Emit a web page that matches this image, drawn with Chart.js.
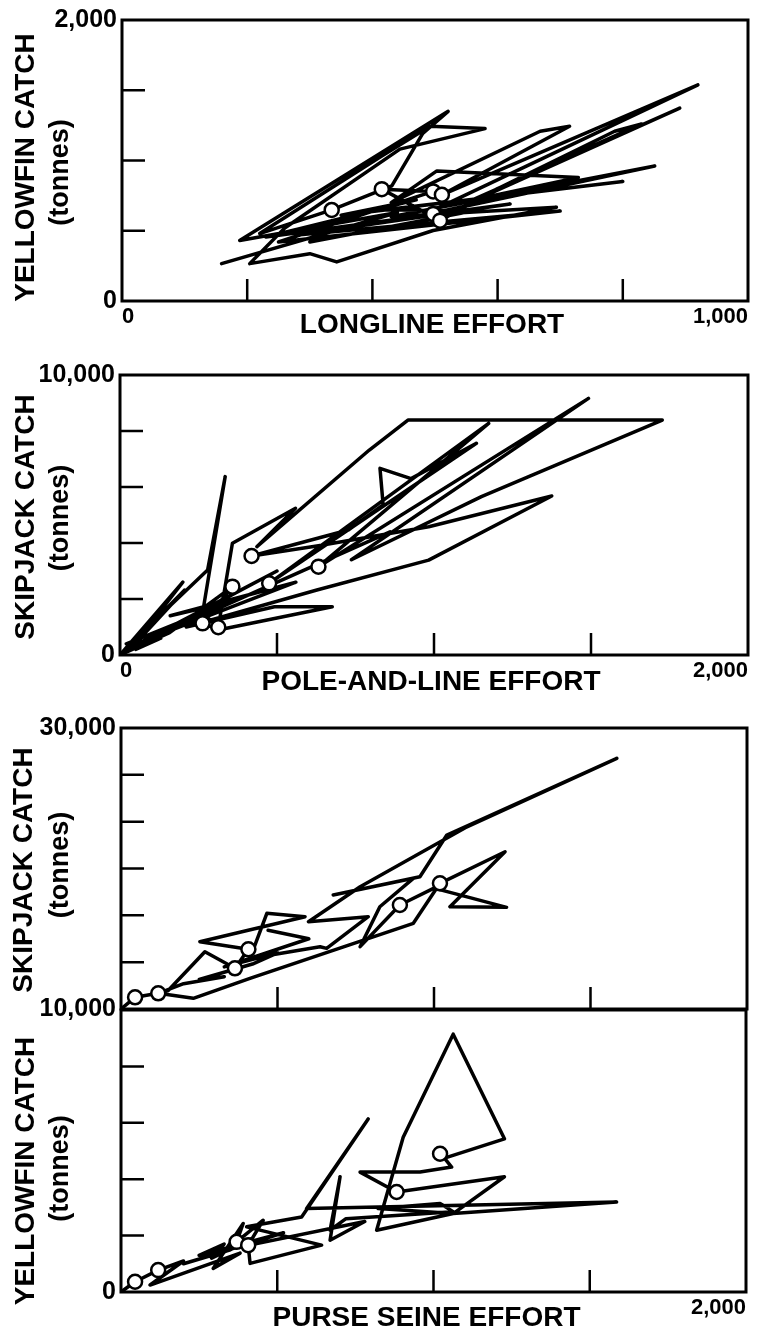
<!DOCTYPE html>
<html>
<head>
<meta charset="utf-8">
<script src="https://cdn.jsdelivr.net/npm/chart.js@4.4.1/dist/chart.umd.min.js"></script>
<style>
  body { margin: 0; background: #fff; width: 772px; height: 1331px; position: relative; overflow: hidden; }
  canvas { position: absolute; left: 0; }
</style>
</head>
<body>
<canvas id="longline" width="772" height="345" style="top:0px"></canvas>
<canvas id="pole" width="772" height="345" style="top:345px"></canvas>
<canvas id="seineSkj" width="772" height="330" style="top:700px"></canvas>
<canvas id="seineYft" width="772" height="341" style="top:990px"></canvas>
<script>
var FONT = '"Liberation Sans", Arial, Helvetica, sans-serif';

// longline effort vs yellowfin catch (tonnes)
var longlineEffort = [159,440,188,521,480,431,335,220,415,492,580,444,260,204,300,343,497,694,430,851,480,920,511,715,668,430,503,729,560,891,550,787,830,600,508,415,497,250,700,280,620,230,470,350,800,420,560,300];
var longlineYellowfin = [266,630,431,1350,1190,820,648,480,1032,1244,1227,1081,520,266,337,278,502,667,600,961,610,1538,756,1244,1208,700,926,879,720,1373,690,1208,1260,800,572,796,780,420,640,470,690,455,720,610,850,650,640,420];
var longlineCircEffort = [335,415,497,511,497,508];
var longlineCircCatch = [648,796,780,756,620,572];

// pole-and-line effort vs skipjack catch
var poleEffort = [0,63,32,206,112,279,335,263,313,358,559,436,794,917,1727,1151,737,1492,632,1174,475,1135,927,828,838,727,419,632,983,1375,983,627,211,492,676,316,262,358,158,0,200,40,500,80,860,120,560,160,350,20,130,50];
var poleSkipjack = [0,600,200,2320,1250,3035,6370,1500,990,3990,5240,3870,7320,8390,8390,5655,3400,9165,3155,8270,2560,7560,6300,6665,5360,4465,3535,3900,4580,5680,3390,2320,1000,1725,1725,900,1130,2440,800,0,2600,300,3000,500,4400,700,2600,1400,1900,400,600,200];
var poleCircEffort = [419,358,475,632,263,313];
var poleCircCatch = [3535,2440,2560,3155,1130,990];

// purse seine effort vs skipjack catch
var seineEffortA = [0,45,119,231,412,934,1019,1227,1051,1232,1000,891,764,827,934,678,955,1041,1584,1100,764,599,790,657,636,412,466,588,252,407,364,268,150,119,200,330,250,420,500,330,600,470];
var seineSkipjack = [10000,10833,11117,10761,12185,16099,18946,21195,17280,17237,18600,17402,14437,17280,19302,18113,19416,22383,27842,22900,18704,16213,16569,14318,14434,13600,16811,16570,14790,14249,12897,14078,11300,11117,11800,12300,12100,13200,14000,13000,15000,15600];
var seineSkjCircEffort = [45,119,364,407,891,1019];
var seineSkjCircCatch = [10833,11117,12897,14249,17402,18946];

// purse seine effort vs yellowfin catch
var seineEffortB = [0,45,119,200,93,381,295,391,370,455,407,413,642,402,578,791,594,1586,1063,818,903,1063,1227,1035,1058,957,765,882,1227,1063,823,1021,1063,720,669,701,669,780,250,330,290,420,350,200,520,300];
var seineYellowfin = [0,364,777,1100,247,1378,838,2428,1778,2545,1661,1014,1661,2311,2663,6138,2957,3193,2781,2191,5489,9142,5432,4750,4430,4252,4252,3546,4087,2781,2958,3135,2850,2600,2191,4087,1838,2500,1300,1700,1200,1900,1500,1000,2100,1450];
var seineYftCircEffort = [45,119,370,407,882,1021];
var seineYftCircCatch = [364,777,1778,1661,3546,4902];

// axis ticks and labels
var longlineTicks = [0,200,400,600,800,1000];
var longlineLabels = ['0','','','','','1,000'];
var effortTicks = [0,500,1000,1500,2000];
var poleEffortLabels = ['0','','','','2,000'];
var seineSkjEffortLabels = ['','','','',''];
var seineYftEffortLabels = ['','','','','2,000'];
var yft2000Ticks = [0,500,1000,1500,2000];
var yft2000Labels = ['0','','','','2,000'];
var catch10kTicks = [0,2000,4000,6000,8000,10000];
var skj10kLabels = ['0','','','','','10,000'];
var yft10kLabels = ['0','','','','',''];
var catch30kTicks = [10000,13333.33,16666.67,20000,23333.33,26666.67,30000];
var skj30kLabels = ['10,000','','','','','','30,000'];

function pts(xs, ys) {
  return xs.map(function (v, i) { return { x: v, y: ys[i] }; });
}

// box, inward tick marks and axis titles
var panelFrame = {
  id: 'panelFrame',
  afterDraw: function (chart, args, o) {
    var ctx = chart.ctx, a = chart.chartArea, sx = chart.scales.x, sy = chart.scales.y;
    ctx.save();
    ctx.strokeStyle = '#000';
    ctx.lineWidth = 3;
    ctx.strokeRect(a.left, a.top, a.right - a.left, a.bottom - a.top);
    ctx.lineWidth = 2.5;
    ctx.beginPath();
    sx.ticks.slice(1, -1).forEach(function (t) {
      var px = sx.getPixelForValue(t.value);
      ctx.moveTo(px, a.bottom); ctx.lineTo(px, a.bottom - 22);
    });
    sy.ticks.slice(1, -1).forEach(function (t) {
      var py = sy.getPixelForValue(t.value);
      ctx.moveTo(a.left, py); ctx.lineTo(a.left + 23, py);
    });
    ctx.stroke();

    ctx.fillStyle = '#000';
    ctx.textAlign = 'center';
    ctx.textBaseline = 'middle';
    var cy = (a.top + a.bottom) / 2;
    if (o.xTitle) {
      ctx.font = 'bold 28px ' + FONT;
      ctx.fillText(o.xTitle, (a.left + a.right) / 2 + o.xTitleDx, a.bottom + o.xTitleDy);
    }
    ctx.save();
    ctx.translate(o.yTitleX, cy + o.yTitleDy);
    ctx.rotate(-Math.PI / 2);
    ctx.font = 'bold 28px ' + FONT;
    ctx.fillText(o.yTitle, 0, 0);
    ctx.restore();
    ctx.save();
    ctx.translate(61, cy + o.subDy);
    ctx.rotate(-Math.PI / 2);
    ctx.font = 'bold 27px ' + FONT;
    ctx.fillText('(tonnes)', 0, 0);
    ctx.restore();
    ctx.restore();
  }
};

function makePanel(id, p) {
  return new Chart(document.getElementById(id), {
    type: 'scatter',
    data: {
      datasets: [
        {
          data: pts(p.circX, p.circY),
          pointRadius: 7,
          pointBackgroundColor: '#fff',
          pointBorderColor: '#000',
          pointBorderWidth: 2.5
        },
        {
          data: pts(p.lineX, p.lineY),
          showLine: true,
          pointRadius: 0,
          borderColor: '#000',
          borderWidth: 3.5,
          borderJoinStyle: 'round',
          borderCapStyle: 'round'
        }
      ]
    },
    options: {
      responsive: false,
      animation: false,
      events: [],
      layout: { padding: p.pad },
      plugins: {
        legend: { display: false },
        tooltip: { enabled: false },
        panelFrame: p.frame
      },
      scales: {
        x: {
          type: 'linear',
          min: p.xTicks[0],
          max: p.xTicks[p.xTicks.length - 1],
          grid: { display: false, drawTicks: false },
          border: { display: false },
          ticks: {
            align: 'inner', padding: 3, maxRotation: 0, autoSkip: false, color: '#000',
            font: { family: FONT, size: 22, weight: 'bold' },
            callback: function (v, i) { return p.xLabels[i]; }
          },
          afterBuildTicks: function (s) { s.ticks = p.xTicks.map(function (v) { return { value: v }; }); },
          afterFit: function (s) { s.height = p.xH; }
        },
        y: {
          type: 'linear',
          min: p.yTicks[0],
          max: p.yTicks[p.yTicks.length - 1],
          grid: { display: false, drawTicks: false },
          border: { display: false },
          ticks: {
            padding: 5, autoSkip: false, color: '#000',
            font: { family: FONT, size: 25, weight: 'bold' },
            callback: function (v, i) { return p.yLabels[i]; }
          },
          afterBuildTicks: function (s) { s.ticks = p.yTicks.map(function (v) { return { value: v }; }); },
          afterFit: function (s) { s.width = p.yW; }
        }
      }
    },
    plugins: [panelFrame]
  });
}

makePanel('longline', {
  lineX: longlineEffort, lineY: longlineYellowfin,
  circX: longlineCircEffort, circY: longlineCircCatch,
  xTicks: longlineTicks, xLabels: longlineLabels,
  yTicks: yft2000Ticks, yLabels: yft2000Labels,
  pad: { top: 18, right: 24, bottom: 0, left: 0 }, xH: 44, yW: 122,
  frame: { xTitle: 'LONGLINE EFFORT', xTitleDx: -3, xTitleDy: 24, yTitle: 'YELLOWFIN CATCH', yTitleX: 26, yTitleDy: 7, subDy: 12 }
});

makePanel('pole', {
  lineX: poleEffort, lineY: poleSkipjack,
  circX: poleCircEffort, circY: poleCircCatch,
  xTicks: effortTicks, xLabels: poleEffortLabels,
  yTicks: catch10kTicks, yLabels: skj10kLabels,
  pad: { top: 30, right: 24, bottom: 0, left: 0 }, xH: 35, yW: 120,
  frame: { xTitle: 'POLE-AND-LINE EFFORT', xTitleDx: -3, xTitleDy: 27, yTitle: 'SKIPJACK CATCH', yTitleX: 26, yTitleDy: 2, subDy: 3 }
});

makePanel('seineSkj', {
  lineX: seineEffortA, lineY: seineSkipjack,
  circX: seineSkjCircEffort, circY: seineSkjCircCatch,
  xTicks: effortTicks, xLabels: seineSkjEffortLabels,
  yTicks: catch30kTicks, yLabels: skj30kLabels,
  pad: { top: 28, right: 25, bottom: 0, left: 0 }, xH: 21, yW: 121,
  frame: { xTitle: '', yTitle: 'SKIPJACK CATCH', yTitleX: 24, yTitleDy: 1.5, subDy: -3.5 }
});

makePanel('seineYft', {
  lineX: seineEffortB, lineY: seineYellowfin,
  circX: seineYftCircEffort, circY: seineYftCircCatch,
  xTicks: effortTicks, xLabels: seineYftEffortLabels,
  yTicks: catch10kTicks, yLabels: yft10kLabels,
  pad: { top: 19, right: 26, bottom: 0, left: 0 }, xH: 39, yW: 121,
  frame: { xTitle: 'PURSE SEINE EFFORT', xTitleDx: -7, xTitleDy: 26, yTitle: 'YELLOWFIN CATCH', yTitleX: 26, yTitleDy: 20, subDy: 17.5 }
});
</script>
</body>
</html>
